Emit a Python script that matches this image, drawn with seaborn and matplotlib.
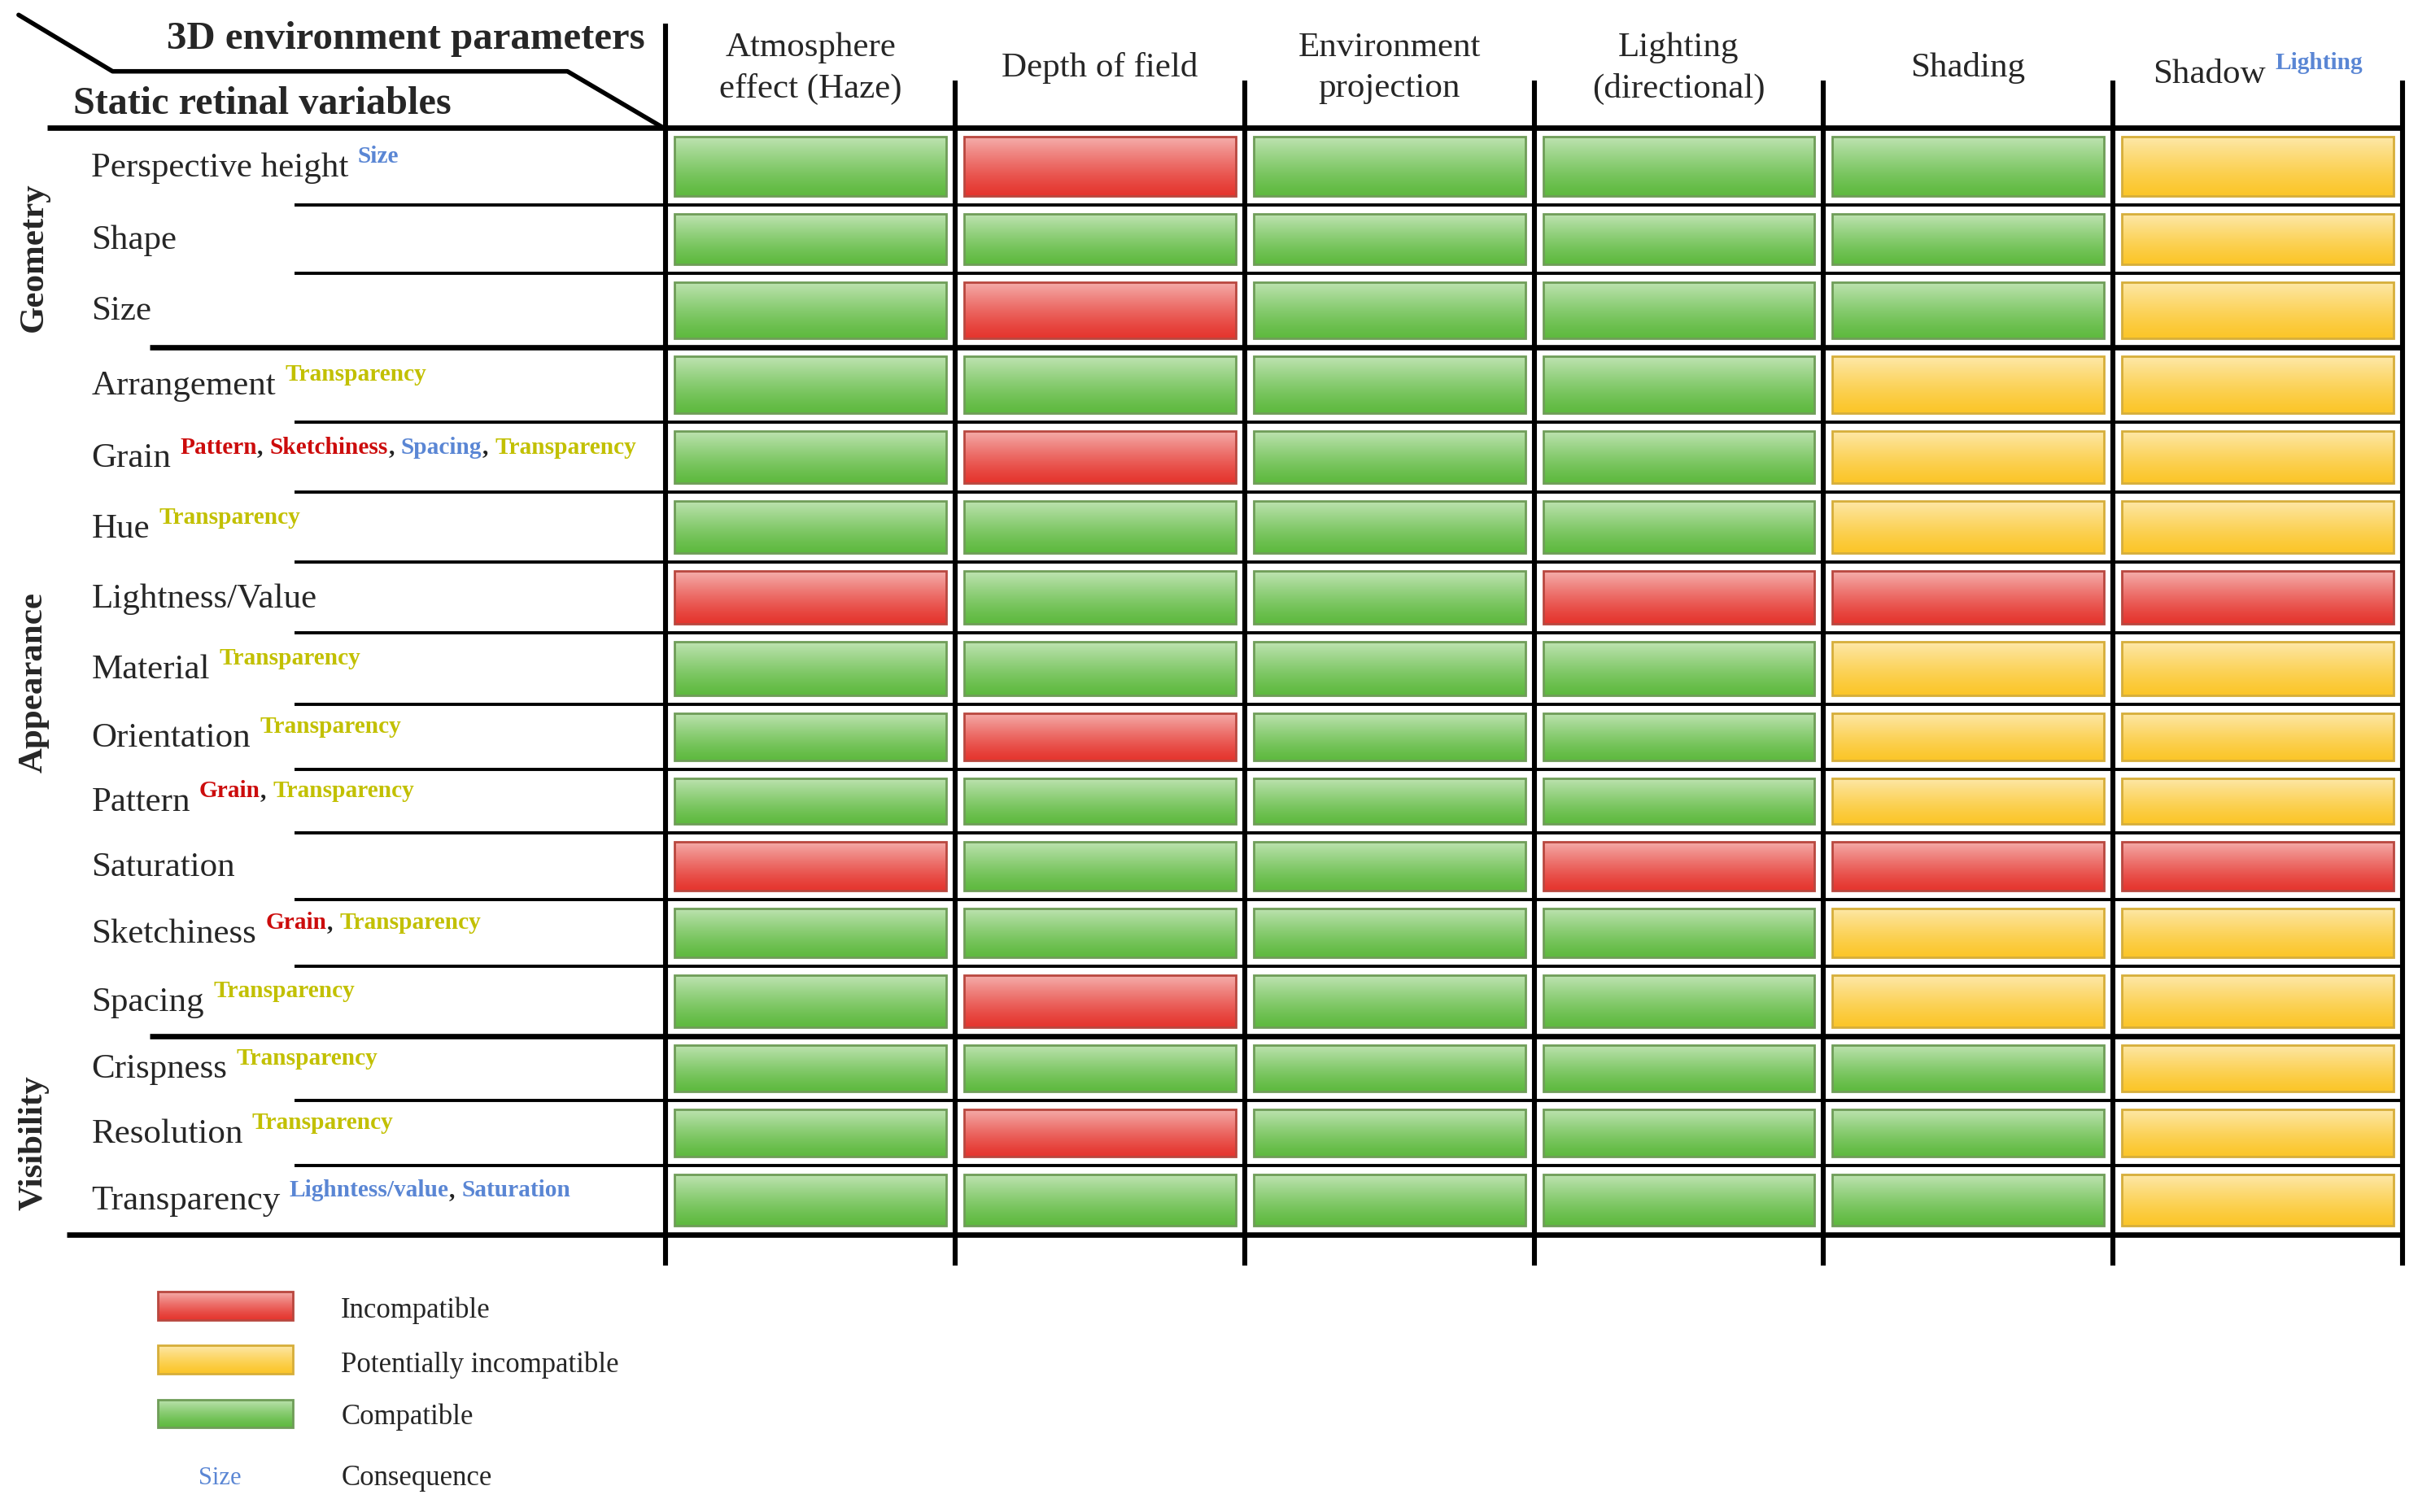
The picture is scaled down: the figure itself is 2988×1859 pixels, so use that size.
import numpy as np
import pandas as pd
import seaborn as sns
import matplotlib.pyplot as plt
from matplotlib.colors import ListedColormap
from matplotlib.patches import Rectangle

# ---- data -------------------------------------------------------------
columns = ["Atmosphere\neffect (Haze)", "Depth of field", "Environment\nprojection",
           "Lighting\n(directional)", "Shading", "Shadow"]
column_notes = [[], [], [], [], [], [("Lighting", "blue")]]

rows = ["Perspective height", "Shape", "Size",
        "Arrangement", "Grain", "Hue", "Lightness/Value", "Material", "Orientation",
        "Pattern", "Saturation", "Sketchiness", "Spacing",
        "Crispness", "Resolution", "Transparency"]

groups = ["Geometry", "Appearance", "Visibility"]
group_bounds = [(0, 3), (3, 13), (13, 16)]

# I = incompatible, P = potentially incompatible, C = compatible
status = [
    "CICCCP",  # Perspective height
    "CCCCCP",  # Shape
    "CICCCP",  # Size
    "CCCCPP",  # Arrangement
    "CICCPP",  # Grain
    "CCCCPP",  # Hue
    "ICCIII",  # Lightness/Value
    "CCCCPP",  # Material
    "CICCPP",  # Orientation
    "CCCCPP",  # Pattern
    "ICCIII",  # Saturation
    "CCCCPP",  # Sketchiness
    "CICCPP",  # Spacing
    "CCCCCP",  # Crispness
    "CICCCP",  # Resolution
    "CCCCCP",  # Transparency
]

T = [("Transparency", "yellow")]
row_notes = {
    "Perspective height": [("Size", "blue")],
    "Arrangement": T,
    "Grain": [("Pattern", "red"), ("Sketchiness", "red"), ("Spacing", "blue"), ("Transparency", "yellow")],
    "Hue": T,
    "Material": T,
    "Orientation": T,
    "Pattern": [("Grain", "red"), ("Transparency", "yellow")],
    "Sketchiness": [("Grain", "red"), ("Transparency", "yellow")],
    "Spacing": T,
    "Crispness": T,
    "Resolution": T,
    "Transparency": [("Lighntess/value", "blue"), ("Saturation", "blue")],
}

legend_labels = ["Incompatible", "Potentially incompatible", "Compatible"]

# ---- style / layout ---------------------------------------------------
code_of = {"I": 0, "P": 1, "C": 2}
base_colors = ["#e5362f", "#fbc62a", "#5fba40"]
edge_colors = ["#b9473f", "#d6ae3a", "#6f9d58"]
note_colors = {"red": "#cc0c0c", "yellow": "#c2c000", "blue": "#5a86d4"}

sns.set_style("white")
plt.rcParams['font.family'] = ['Liberation Serif', 'DejaVu Serif']

W, H = 1568, 975  # layout grid (reference pixels / 1.906)
left, right = 429.5, 1549.5
row_edges = [82.5, 132, 176, 224, 272, 317.5, 362.6, 408, 454, 496, 537, 580, 623,
             668, 709.5, 751.5, 796]


def fx(x):
    return x / W


def fy(y):
    return 1 - y / H


fig = plt.figure(figsize=(14.94, 9.295), dpi=200)
codes = np.array([[code_of[c] for c in r] for r in status])
df = pd.DataFrame(codes, index=rows, columns=columns)
cmap = ListedColormap(base_colors)


def gradient_cells(ax, mat, lw_pt):
    # white sheen on top of every heatmap cell plus a thin darker outline
    nr, nc = mat.shape
    bb = ax.get_position()
    col_px = bb.width * fig.get_figwidth() * fig.dpi / nc
    row_px = bb.height * fig.get_figheight() * fig.dpi / nr
    half = lw_pt / 2 * fig.dpi / 72
    dx, dy = half / col_px, half / row_px
    t = np.linspace(0, 1, 64)
    sheen = np.ones((64, 1, 4))
    sheen[:, 0, 3] = 0.6 * (1 - t) ** 1.25
    for i in range(nr):
        for j in range(nc):
            ax.imshow(sheen, extent=(j + dx, j + 1 - dx, i + 1 - dy, i + dy),
                      aspect='auto', interpolation='bilinear', zorder=2)
            ax.add_patch(Rectangle((j + dx, i + dy), 1 - 2 * dx, 1 - 2 * dy, fill=False,
                                   edgecolor=edge_colors[mat[i, j]], lw=1.0, zorder=3))
    ax.set_xlim(0, nc)
    ax.set_ylim(nr, 0)
    ax.set_aspect('auto')
    ax.axis('off')


# ---- cells: one heatmap strip per row ---------------------------------
lw_main = 7.9
for i in range(len(rows)):
    rax = fig.add_axes([fx(left), fy(row_edges[i + 1]), fx(right) - fx(left),
                        fy(row_edges[i]) - fy(row_edges[i + 1])])
    sns.heatmap(df.iloc[i:i + 1], cmap=cmap, vmin=-0.5, vmax=2.5, cbar=False,
                linewidths=lw_main, linecolor='white', xticklabels=False,
                yticklabels=False, ax=rax)
    gradient_cells(rax, codes[i:i + 1], lw_main)

# ---- legend keys -------------------------------------------------------
lax = fig.add_axes([fx(93.6), fy(928.9), fx(197.4) - fx(93.6), fy(824.6) - fy(928.9)])
leg_codes = np.array([[0], [1], [2]])
lw_leg = 11.5
sns.heatmap(pd.DataFrame(leg_codes, index=legend_labels), cmap=cmap, vmin=-0.5, vmax=2.5,
            cbar=False, linewidths=lw_leg, linecolor='white',
            xticklabels=False, yticklabels=False, ax=lax)
gradient_cells(lax, leg_codes, lw_leg)

# ---- overlay in layout pixels: rules and text -------------------------
ov = fig.add_axes([0, 0, 1, 1])
ov.set_xlim(0, W)
ov.set_ylim(H, 0)
ov.axis('off')
ov.set_zorder(10)

ncol = len(columns)
col_w = (right - left) / ncol
for j in range(ncol + 1):
    x = left + j * col_w
    ov.plot([x, x], [15 if j == 0 else 52, 816], color='black', lw=2.2,
            solid_capstyle='butt')

thick_rows = {b for _, b in group_bounds[:-1]}
for i, y in enumerate(row_edges):
    if i == 0:
        x0, lw = 30.6, 2.4
    elif i == len(rows):
        x0, lw = 43, 2.4
    elif i in thick_rows:
        x0, lw = 96.6, 2.4
    else:
        x0, lw = 190, 1.4
    ov.plot([x0, right + 1], [y, y], color='black', lw=lw, solid_capstyle='butt')

ov.plot([12, 72.6, 366, 428], [9.6, 46, 46, 82.5], color='black', lw=2.0)
ov.text(416, 25, "3D environment parameters", ha='right', va='center',
        fontsize=17.6, weight='bold')
ov.text(47, 67, "Static retinal variables", ha='left', va='center',
        fontsize=17.4, weight='bold')


def with_notes(x, y, text, notes, size, ha='left', sup=10.6, **kw):
    t = ov.text(x, y, text, ha=ha, va='center', fontsize=size, **kw)
    prev = t
    for k, (word, key) in enumerate(notes):
        if k > 0:
            prev = ov.annotate(",", xy=(1, 0.5), xycoords=prev, xytext=(0, 0),
                               textcoords='offset points', ha='left', va='center',
                               fontsize=sup, weight='bold', color='#222222')
        off = (4, 5) if k == 0 else (3, 0)
        prev = ov.annotate(word, xy=(1, 0.5), xycoords=prev, xytext=off,
                           textcoords='offset points', ha='left', va='center',
                           fontsize=sup, weight='bold', color=note_colors[key])
    return t, prev


renderer = fig.canvas.get_renderer()
for j, name in enumerate(columns):
    cx = left + (j + 0.5) * col_w
    t, last = with_notes(cx, 48 if column_notes[j] else 44, name, column_notes[j], 15.5,
                         ha='center', linespacing=1.4)
    if column_notes[j]:
        extra = last.get_window_extent(renderer).x1 - t.get_window_extent(renderer).x1
        t.set_x(cx - extra / 2 * W / (fig.get_figwidth() * fig.dpi))

for i, name in enumerate(rows):
    with_notes(59, (row_edges[i] + row_edges[i + 1]) / 2 + 1, name,
               row_notes.get(name, []), 15.5)

group_y = [166, 440, 737]
for g, gy in zip(groups, group_y):
    ov.text(22, gy, g, rotation=90, ha='center', va='center', fontsize=15.5, weight='bold')

legend_y = [845, 880, 914]
for lab, ly in zip(legend_labels, legend_y):
    ov.text(220, ly, lab, ha='left', va='center', fontsize=12.5)
ov.text(142, 953, "Size", ha='center', va='center', fontsize=11, color=note_colors["blue"])
ov.text(220, 953, "Consequence", ha='left', va='center', fontsize=12.5)

fig.savefig("out.png", dpi=200)
